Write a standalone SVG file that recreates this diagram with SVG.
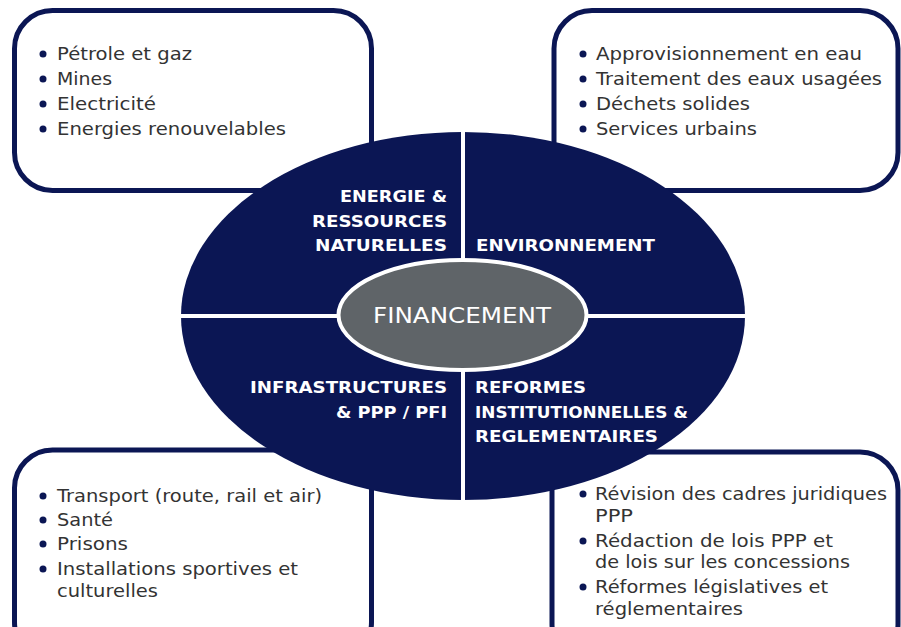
<svg xmlns="http://www.w3.org/2000/svg" width="901" height="627" viewBox="0 0 901 627">
<style>
.box{fill:#fff;stroke:#0b1654;stroke-width:5}
.item{font-family:"DejaVu Sans","Liberation Sans",sans-serif;font-size:18px;fill:#333}
.dot{fill:#0b1654}
.lbl{font-family:"DejaVu Sans","Liberation Sans",sans-serif;font-size:16px;font-weight:bold;fill:#fff}
.div{stroke:#fff;stroke-width:4}
</style>
<rect width="901" height="627" fill="#fff"/>
<g id="box-energie">
<rect class="box" x="14.5" y="10.5" width="357" height="180" rx="38"/>
<circle class="dot" cx="43" cy="54" r="3.5"/><circle class="dot" cx="43" cy="79" r="3.5"/><circle class="dot" cx="43" cy="104" r="3.5"/><circle class="dot" cx="43" cy="129" r="3.5"/>
<text class="item" x="57" y="60" textLength="135" lengthAdjust="spacingAndGlyphs">Pétrole et gaz</text>
<text class="item" x="57" y="85" textLength="55" lengthAdjust="spacingAndGlyphs">Mines</text>
<text class="item" x="57" y="110" textLength="99" lengthAdjust="spacingAndGlyphs">Electricité</text>
<text class="item" x="57" y="135" textLength="229" lengthAdjust="spacingAndGlyphs">Energies renouvelables</text>
</g>
<g id="box-environnement">
<rect class="box" x="554" y="10.5" width="344" height="180" rx="38"/>
<circle class="dot" cx="583" cy="54" r="3.5"/><circle class="dot" cx="583" cy="79" r="3.5"/><circle class="dot" cx="583" cy="104" r="3.5"/><circle class="dot" cx="583" cy="129" r="3.5"/>
<text class="item" x="596" y="60" textLength="266" lengthAdjust="spacingAndGlyphs">Approvisionnement en eau</text>
<text class="item" x="596" y="85" textLength="286" lengthAdjust="spacingAndGlyphs">Traitement des eaux usagées</text>
<text class="item" x="596" y="110" textLength="154" lengthAdjust="spacingAndGlyphs">Déchets solides</text>
<text class="item" x="596" y="135" textLength="161" lengthAdjust="spacingAndGlyphs">Services urbains</text>
</g>
<g id="box-infrastructures">
<rect class="box" x="14.5" y="450" width="357" height="210" rx="38"/>
<circle class="dot" cx="43" cy="496" r="3.5"/><circle class="dot" cx="43" cy="520" r="3.5"/><circle class="dot" cx="43" cy="544" r="3.5"/><circle class="dot" cx="43" cy="569" r="3.5"/>
<text class="item" x="57" y="502" textLength="265" lengthAdjust="spacingAndGlyphs">Transport (route, rail et air)</text>
<text class="item" x="57" y="526" textLength="56" lengthAdjust="spacingAndGlyphs">Santé</text>
<text class="item" x="57" y="550" textLength="71" lengthAdjust="spacingAndGlyphs">Prisons</text>
<text class="item" x="57" y="575" textLength="241" lengthAdjust="spacingAndGlyphs">Installations sportives et</text>
<text class="item" x="57" y="597" textLength="101" lengthAdjust="spacingAndGlyphs">culturelles</text>
</g>
<g id="box-reformes">
<rect class="box" x="552" y="452" width="346" height="210" rx="38"/>
<circle class="dot" cx="583" cy="494" r="3.5"/><circle class="dot" cx="583" cy="541" r="3.5"/><circle class="dot" cx="583" cy="587" r="3.5"/>
<text class="item" x="595" y="500" textLength="292" lengthAdjust="spacingAndGlyphs">Révision des cadres juridiques</text>
<text class="item" x="595" y="522" textLength="38" lengthAdjust="spacingAndGlyphs">PPP</text>
<text class="item" x="595" y="547" textLength="238" lengthAdjust="spacingAndGlyphs">Rédaction de lois PPP et</text>
<text class="item" x="595" y="568" textLength="255" lengthAdjust="spacingAndGlyphs">de lois sur les concessions</text>
<text class="item" x="595" y="593" textLength="233" lengthAdjust="spacingAndGlyphs">Réformes législatives et</text>
<text class="item" x="595" y="615" textLength="148" lengthAdjust="spacingAndGlyphs">réglementaires</text>
</g>
<g id="ellipse-main">
<ellipse cx="463" cy="316" rx="282" ry="184" fill="#0b1654"/>
</g>
<g id="connectors">
<line class="div" x1="463" y1="130" x2="463" y2="502"/>
<line class="div" x1="178" y1="316" x2="748" y2="316"/>
</g>
<g id="quadrant-labels">
<text class="lbl" x="447" y="202" text-anchor="end" textLength="107" lengthAdjust="spacingAndGlyphs">ENERGIE &amp;</text>
<text class="lbl" x="447" y="227" text-anchor="end" textLength="135" lengthAdjust="spacingAndGlyphs">RESSOURCES</text>
<text class="lbl" x="447" y="251" text-anchor="end" textLength="132" lengthAdjust="spacingAndGlyphs">NATURELLES</text>
<text class="lbl" x="476" y="251" textLength="179" lengthAdjust="spacingAndGlyphs">ENVIRONNEMENT</text>
<text class="lbl" x="447" y="393" text-anchor="end" textLength="197" lengthAdjust="spacingAndGlyphs">INFRASTRUCTURES</text>
<text class="lbl" x="447" y="418" text-anchor="end" textLength="111" lengthAdjust="spacingAndGlyphs">&amp; PPP / PFI</text>
<text class="lbl" x="475" y="393" textLength="111" lengthAdjust="spacingAndGlyphs">REFORMES</text>
<text class="lbl" x="475" y="418" textLength="213" lengthAdjust="spacingAndGlyphs">INSTITUTIONNELLES &amp;</text>
<text class="lbl" x="475" y="442" textLength="183" lengthAdjust="spacingAndGlyphs">REGLEMENTAIRES</text>
</g>
<g id="financement">
<ellipse cx="462.5" cy="315" rx="124" ry="55" fill="#5f6468" stroke="#fff" stroke-width="4"/>
<text x="462" y="323" text-anchor="middle" font-family="DejaVu Sans, Liberation Sans, sans-serif" font-size="20.5" fill="#fff" textLength="178" lengthAdjust="spacingAndGlyphs">FINANCEMENT</text>
</g>
</svg>
